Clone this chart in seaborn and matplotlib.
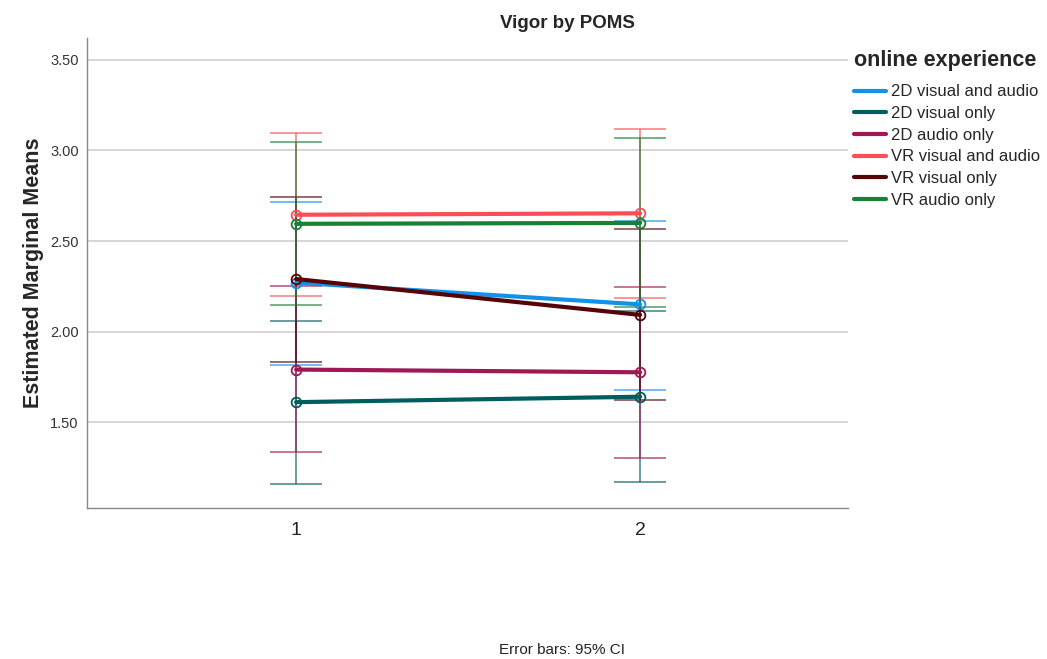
import numpy as np
import pandas as pd
import matplotlib
matplotlib.use('Agg')
import matplotlib.pyplot as plt
from matplotlib.lines import Line2D
import seaborn as sns

# data
groups = ['2D visual and audio', '2D visual only', '2D audio only',
          'VR visual and audio', 'VR visual only', 'VR audio only']
colors = ['#1192e8', '#005d5d', '#9f1853', '#fa4d56', '#570408', '#198038']
times = [1, 2]
mean_t1 = [2.27, 1.61, 1.79, 2.645, 2.29, 2.595]
mean_t2 = [2.15, 1.64, 1.775, 2.653, 2.092, 2.60]
lo_t1 = [1.815, 1.157, 1.333, 2.195, 1.833, 2.146]
hi_t1 = [2.717, 2.060, 2.253, 3.095, 2.745, 3.045]
lo_t2 = [1.677, 1.170, 1.300, 2.187, 1.622, 2.133]
hi_t2 = [2.611, 2.113, 2.248, 3.119, 2.565, 3.067]

rows = []
for i, g in enumerate(groups):
    rows.append({'time': times[0], 'group': g, 'mean': mean_t1[i], 'lo': lo_t1[i], 'hi': hi_t1[i]})
    rows.append({'time': times[1], 'group': g, 'mean': mean_t2[i], 'lo': lo_t2[i], 'hi': hi_t2[i]})
df = pd.DataFrame(rows)
palette = dict(zip(groups, colors))

sns.set_style('white')
plt.rcParams['font.family'] = ['Liberation Sans', 'DejaVu Sans']

fig = plt.figure(figsize=(10.47, 6.59), dpi=100)
ax = fig.add_axes([0.0831, 0.229, 0.727, 0.713])

# error bars first, under the lines
for g in groups:
    sub = df[df['group'] == g]
    ax.errorbar(sub['time'], sub['mean'],
                yerr=[sub['mean'] - sub['lo'], sub['hi'] - sub['mean']],
                fmt='none', color=palette[g], ecolor=palette[g], elinewidth=1.4,
                capsize=18.5, capthick=1.4, alpha=0.6, zorder=2)

sns.lineplot(data=df, x='time', y='mean', hue='group', hue_order=groups,
             palette=palette, linewidth=3, marker='o', markersize=7,
             markerfacecolor='none', markeredgewidth=1.3, legend=False,
             ax=ax, zorder=3)
for ln in ax.lines:
    if ln.get_marker() == 'o':
        ln.set_markeredgecolor(ln.get_color())
        ln.set_markerfacecolor('none')

ax.set_xlim(0.392, 2.605)
ax.set_ylim(1.025, 3.62)
ax.set_xticks(times)
ax.set_xticklabels(['1', '2'], fontsize=14, color='#222222')
ax.set_yticks([1.5, 2.0, 2.5, 3.0, 3.5])
ax.set_yticklabels(['1.50', '2.00', '2.50', '3.00', '3.50'], fontsize=10.5, color='#333333')
ax.tick_params(axis='x', length=0, pad=10)
ax.tick_params(axis='y', length=0, pad=6)
ax.yaxis.grid(True, color='#d0d0d0', linewidth=1.2)
ax.set_axisbelow(True)
for s in ['top', 'right']:
    ax.spines[s].set_visible(False)
for s in ['left', 'bottom']:
    ax.spines[s].set_color('#888888')
    ax.spines[s].set_linewidth(1.0)
ax.set_xlabel('')
ax.set_ylabel('Estimated Marginal Means', fontsize=15.5, fontweight='bold', labelpad=4)

handles = [Line2D([0], [0], color=palette[g], linewidth=3) for g in groups]
leg = fig.legend(handles, groups, loc='upper left', bbox_to_anchor=(0.806, 0.94),
                 frameon=False, fontsize=12, title='online experience',
                 handlelength=1.95, handletextpad=0.25, labelspacing=0.4,
                 alignment='left', borderaxespad=0.2)
leg.get_title().set_fontsize(15.5)
leg.get_title().set_fontweight('bold')
leg._legend_box.sep = 10

fig.text(0.542, 0.958, 'Vigor by POMS', ha='center', fontsize=13.5, fontweight='bold')
fig.text(0.537, 0.008, 'Error bars: 95% CI', ha='center', fontsize=11, color='#222222')

fig.savefig('out.png', dpi=100)
